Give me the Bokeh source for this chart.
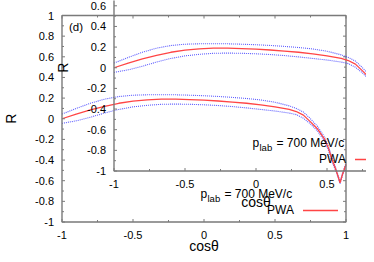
import math
from bokeh.plotting import figure
from bokeh.models import Range1d
from bokeh.embed import file_html
from bokeh.resources import INLINE
from bokeh.core.properties import value

# ---------------- data ----------------
COS_THETA = [-1.0, -0.9, -0.8, -0.7, -0.6, -0.5, -0.4, -0.3, -0.2, -0.1,
             0.0, 0.1, 0.2, 0.3, 0.4, 0.5, 0.6, 0.65, 0.7, 0.75, 0.8, 0.85,
             0.875, 0.9, 0.925, 0.94, 0.958, 0.975, 1.0]
R_PWA = [0.0, 0.045, 0.085, 0.12, 0.15, 0.17, 0.183, 0.19, 0.19, 0.186,
         0.18, 0.172, 0.162, 0.15, 0.135, 0.115, 0.09, 0.07, 0.035, -0.03, -0.10, -0.20,
         -0.28, -0.39, -0.48, -0.54, -0.62, -0.54, -0.44]
R_UPPER = [0.045, 0.10, 0.15, 0.19, 0.215, 0.228, 0.232, 0.233, 0.232, 0.228,
           0.223, 0.216, 0.207, 0.196, 0.182, 0.16, 0.125, 0.10, 0.065, 0.0, -0.075, -0.18,
           -0.26, -0.37, -0.465, -0.53, -0.61, -0.53, -0.43]
R_LOWER = [-0.045, -0.02, 0.015, 0.055, 0.09, 0.115, 0.13, 0.14, 0.142, 0.14,
           0.135, 0.128, 0.118, 0.105, 0.09, 0.075, 0.055, 0.04, 0.005, -0.05, -0.12, -0.22,
           -0.30, -0.41, -0.495, -0.55, -0.63, -0.55, -0.45]

X_TICKS = [-1.0, -0.5, 0.0, 0.5, 1.0]
X_TICK_LABELS = ["-1", "-0.5", "0", "0.5", "1"]
X_MINOR = [-0.75, -0.25, 0.25, 0.75]
Y_TICKS = [-1.0, -0.8, -0.6, -0.4, -0.2, 0.0, 0.2, 0.4, 0.6, 0.8, 1.0]
Y_TICK_LABELS = ["-1", "-0.8", "-0.6", "-0.4", "-0.2", "0", "0.2", "0.4", "0.6", "0.8", "1"]
Y_MINOR = [-0.9, -0.7, -0.5, -0.3, -0.1, 0.1, 0.3, 0.5, 0.7, 0.9]

X_LABEL = "cosθ"
Y_LABEL = "R"
PANEL_TAG = "(d)"
KEY_TITLE = ("p", "lab", "= 700 MeV/c")
SERIES_NAME = "PWA"

# ---------------- layout / style ----------------
W, H = 366, 254
PX_X, PX_Y = 142.0, 103.25          # pixels per data unit
BOX_LEFT_PX = 61.5                   # outer box left edge, from canvas left
BOX_BOTTOM_PX = 32.5                 # outer box bottom edge, from canvas bottom
INNER_DX, INNER_DY = 52.0, 51.0      # offset of the second (overlaid) panel

FONT = "Liberation Sans"
AXIS_COLOR = "#7a7a7a"
RED = "#ff4545"
BLUE = "#4040ff"

xmin, xmax = X_TICKS[0], X_TICKS[-1]
ymin, ymax = Y_TICKS[0], Y_TICKS[-1]
x0 = xmin - BOX_LEFT_PX / PX_X
y0 = ymin - BOX_BOTTOM_PX / PX_Y

p = figure(width=W, height=H, output_backend="svg", toolbar_location=None,
           x_range=Range1d(x0, x0 + W / PX_X), y_range=Range1d(y0, y0 + H / PX_Y),
           x_axis_type=None, y_axis_type=None, min_border=0)
p.outline_line_color = None
p.background_fill_color = "white"
p.border_fill_color = "white"
p.extra_x_ranges = {"inner": Range1d(x0 - INNER_DX / PX_X, x0 + (W - INNER_DX) / PX_X)}
p.extra_y_ranges = {"inner": Range1d(y0 - INNER_DY / PX_Y, y0 + (H - INNER_DY) / PX_Y)}


def panel(xr, yr, xlabel_shift=0.0):
    kw = dict(x_range_name=xr, y_range_name=yr)
    xrng = p.x_range if xr == "default" else p.extra_x_ranges[xr]
    yrng = p.y_range if yr == "default" else p.extra_y_ranges[yr]
    in_x = lambda v: xrng.start <= v <= xrng.end
    in_y = lambda v: yrng.start <= v <= yrng.end
    txt = dict(text_font=value(FONT), text_color="black", text_baseline="middle", **kw)
    # curves
    p.line(COS_THETA, R_UPPER, line_color=BLUE, line_width=1.1, line_dash="1 1",
           line_alpha=0.85, **kw)
    p.line(COS_THETA, R_LOWER, line_color=BLUE, line_width=1.1, line_dash="1 1",
           line_alpha=0.85, **kw)
    p.line(COS_THETA, R_PWA, line_color=RED, line_width=1.3, **kw)
    # frame box
    p.quad(left=[xmin], right=[xmax], bottom=[ymin], top=[ymax], fill_color=None,
           line_color=AXIS_COLOR, line_width=1.4, **kw)
    # ticks, pointing inward on all four sides
    big, small = 3.0, 2.0
    sx0, sx1, sy0, sy1 = [], [], [], []
    for ticks, ln in ((Y_TICKS, big), (Y_MINOR, small)):
        for t in ticks:
            sx0 += [xmin, xmax]; sx1 += [xmin + ln / PX_X, xmax - ln / PX_X]
            sy0 += [t, t]; sy1 += [t, t]
    for ticks, ln in ((X_TICKS, big), (X_MINOR, small)):
        for t in ticks:
            sx0 += [t, t]; sx1 += [t, t]
            sy0 += [ymin, ymax]; sy1 += [ymin + ln / PX_Y, ymax - ln / PX_Y]
    p.segment(x0=sx0, y0=sy0, x1=sx1, y1=sy1, line_color=AXIS_COLOR, line_width=1, **kw)

    # tick labels (only those that land on the canvas)
    ys = [(t, s) for t, s in zip(Y_TICKS, Y_TICK_LABELS) if in_y(t)]
    xs = [(t, s) for t, s in zip(X_TICKS, X_TICK_LABELS) if in_x(t)]
    p.text(x=[xmin] * len(ys), y=[t for t, _ in ys], text=[s for _, s in ys], x_offset=-8,
           text_align="right", text_font_size="11px", **txt)
    p.text(x=[t for t, _ in xs], y=[ymin] * len(xs), text=[s for _, s in xs], y_offset=12.5,
           text_align="center", text_font_size="11px", **txt)

    # axis titles
    xc, yc = (xmin + xmax) / 2, (ymin + ymax) / 2
    p.text(x=[xmin], y=[yc], text=[Y_LABEL], x_offset=-51, angle=math.pi / 2,
           text_align="center", text_font_size="14px", **txt)
    p.text(x=[xc], y=[ymin], text=[X_LABEL], y_offset=30.5 - xlabel_shift,
           text_align="center", text_font_size="14px", **txt)
    # panel tag
    if in_y(ymax):
        p.text(x=[xmin], y=[ymax], text=[PANEL_TAG], x_offset=7, y_offset=11,
               text_align="left", text_font_size="11.5px", **txt)
    # key
    p.text(x=[xmax], y=[ymin], text=[KEY_TITLE[0]], x_offset=-145.5, y_offset=-28,
           text_align="left", text_font_size="12px", **txt)
    p.text(x=[xmax], y=[ymin], text=[KEY_TITLE[1]], x_offset=-138.5, y_offset=-24,
           text_align="left", text_font_size="9.5px", **txt)
    p.text(x=[xmax], y=[ymin], text=[KEY_TITLE[2]], x_offset=-121.5, y_offset=-28,
           text_align="left", text_font_size="12px", **txt)
    p.text(x=[xmax], y=[ymin], text=[SERIES_NAME], x_offset=-52, y_offset=-12,
           text_align="right", text_font_size="12px", **txt)
    p.segment(x0=[xmax - 43 / PX_X], x1=[xmax - 8 / PX_X],
              y0=[ymin + 11.5 / PX_Y], y1=[ymin + 11.5 / PX_Y],
              line_color=RED, line_width=1.3, **kw)


# outer panel (its x title is nudged up so that it stays on the canvas)
panel("default", "default", xlabel_shift=7.0)
# second, overlaid copy of the same panel
panel("inner", "inner")

open("out.html", "w").write(file_html(p, INLINE))
